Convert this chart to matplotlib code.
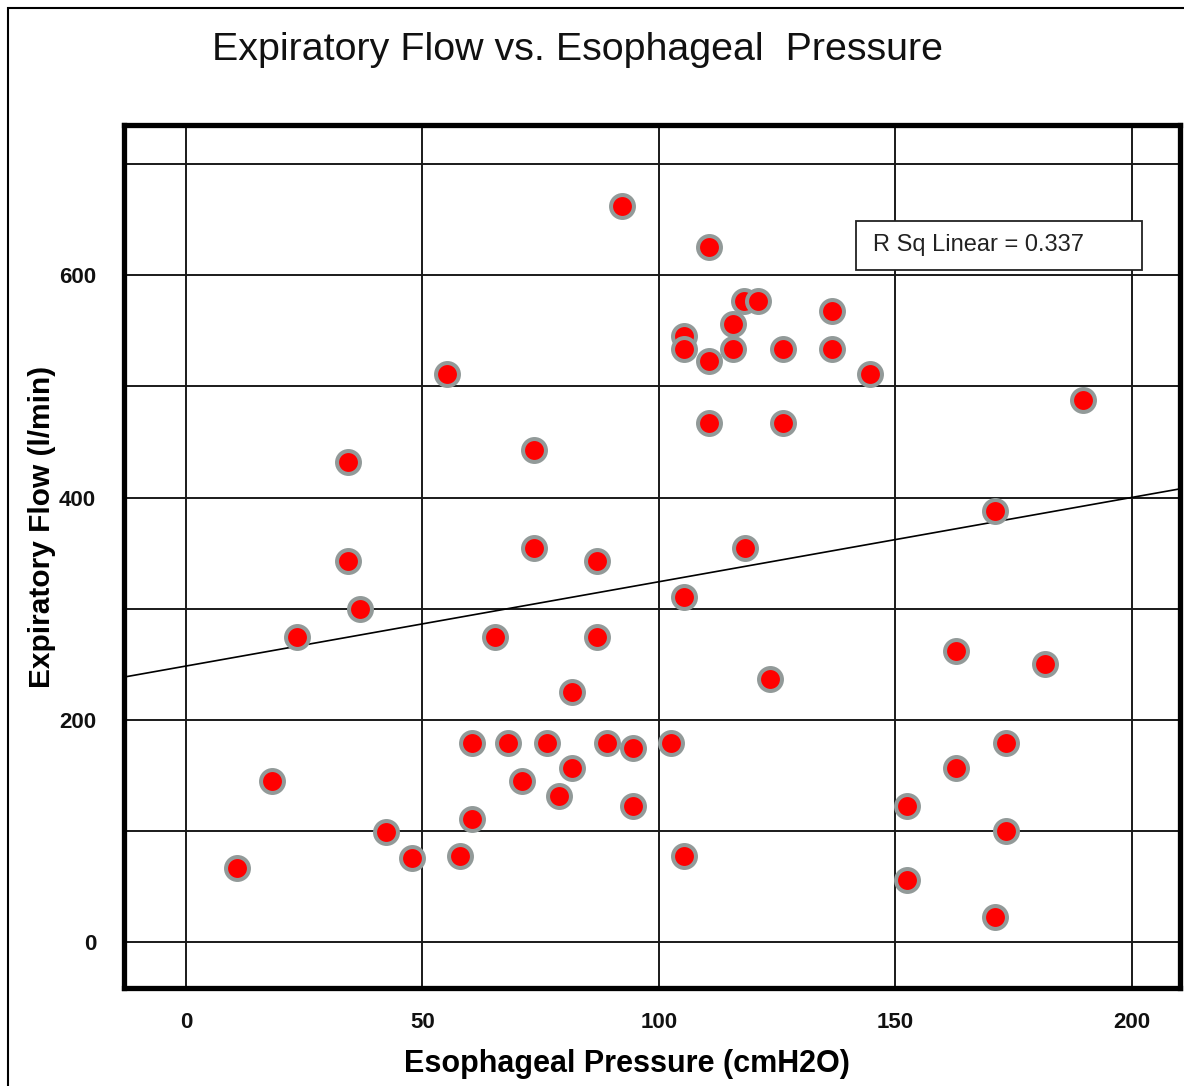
import numpy as np
import matplotlib.pyplot as plt
from matplotlib.patches import Rectangle

# esophageal pressure (cmH2O) and expiratory flow (l/min)
pressure = [92.2, 110.6, 118.0, 121.0, 136.7, 115.7, 105.3, 105.3, 115.7, 126.3,
            136.7, 110.6, 144.7, 55.1, 189.6, 110.6, 126.3, 73.5, 34.3, 171.0,
            73.5, 118.2, 34.3, 86.9, 36.7, 105.3, 23.5, 65.3, 86.9, 162.9,
            181.6, 123.5, 81.6, 60.4, 68.2, 76.3, 89.0, 94.5, 102.5, 173.5,
            18.2, 71.0, 81.6, 162.9, 78.8, 94.5, 152.5, 60.4, 42.2, 173.5,
            47.7, 58.0, 105.3, 10.8, 152.5, 171.0]
flow = [662, 625, 577, 577, 568, 556, 545, 534, 534, 534,
        534, 523, 511, 511, 488, 467, 467, 443, 432, 388,
        355, 355, 343, 343, 300, 311, 275, 275, 275, 262,
        250, 237, 225, 179, 179, 179, 179, 175, 179, 179,
        145, 145, 157, 157, 132, 123, 123, 111, 99, 100,
        76, 78, 78, 67, 56, 23]

# fit line as drawn on the chart
fit_intercept = 248.5
fit_slope = 0.758
r_sq = 0.337

xticks = [0, 50, 100, 150, 200]
yticks = [0, 100, 200, 300, 400, 500, 600, 700]
ytick_labels = ['0', '', '200', '', '400', '', '600', '']

W, H = 1184, 1086
fig = plt.figure(figsize=(W / 100, H / 100), dpi=100)
ax = fig.add_axes([124 / W, 1 - 988 / H, (1180 - 124) / W, (988 - 125) / H])

narrow = ['Liberation Sans Narrow', 'Liberation Sans', 'DejaVu Sans']
arial = ['Liberation Sans', 'DejaVu Sans']

ax.set_xlim(-13.1, 210.2)
ax.set_ylim(-41, 735)
ax.set_xticks(xticks)
ax.set_yticks(yticks)
ax.set_xticklabels([str(t) for t in xticks])
ax.set_yticklabels(ytick_labels)
for lab in ax.get_xticklabels() + ax.get_yticklabels():
    lab.set_family(narrow)
    lab.set_fontweight('bold')
    lab.set_fontsize(16)
ax.tick_params(axis='both', length=0, colors='#111111')
ax.tick_params(axis='x', pad=17)
ax.tick_params(axis='y', pad=20)
ax.grid(True, color='#1a1a1a', linewidth=1.4)
ax.set_axisbelow(True)
for sp in ax.spines.values():
    sp.set_linewidth(3.8)
    sp.set_color('black')

xs = np.array([-20, 220])
ax.plot(xs, fit_intercept + fit_slope * xs, color='black', linewidth=1.2, zorder=3)

ax.plot(pressure, flow, 'o', markersize=16.5, markerfacecolor='#ff0000',
        markeredgecolor='#929a99', markeredgewidth=2.9, zorder=4)

# R squared box
ax.add_patch(Rectangle((0.693, 0.832), 0.271, 0.057, transform=ax.transAxes,
                       facecolor='white', edgecolor='#222222', linewidth=1.3, zorder=5))
ax.text(0.709, 0.861, f'R Sq Linear = {r_sq}', transform=ax.transAxes,
        family=arial, fontsize=17, va='center', ha='left', color='#222222', zorder=6)

fig.text(578 / W, 1 - 50 / H, 'Expiratory Flow vs. Esophageal  Pressure',
         family=arial, fontsize=28.4, ha='center', va='center', color='#111111')
fig.text(627 / W, 1 - 1064 / H, 'Esophageal Pressure (cmH2O)',
         family=narrow, fontweight='bold', fontsize=22, ha='center', va='center')
fig.text(42 / W, 1 - 527 / H, 'Expiratory Flow (l/min)', rotation=90,
         family=narrow, fontweight='bold', fontsize=21.5, ha='center', va='center')

# outer frame of the figure
fig.add_artist(Rectangle((8 / W, -0.05), 1.1, 1 - 8 / H + 0.05, transform=fig.transFigure,
                         fill=False, edgecolor='black', linewidth=1.5))

fig.savefig('out.png', dpi=100, facecolor='white')
